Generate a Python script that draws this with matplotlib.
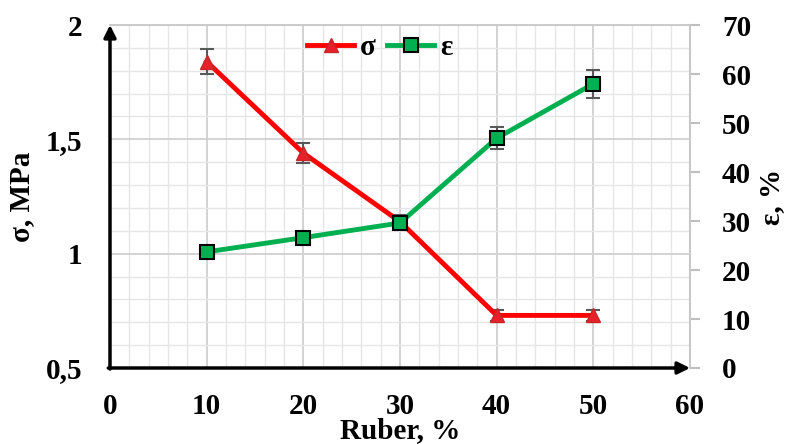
import matplotlib
matplotlib.use("Agg")
import matplotlib.pyplot as plt
from matplotlib.lines import Line2D
from matplotlib.ticker import MultipleLocator, FuncFormatter

plt.rcParams["font.family"] = ["Liberation Serif", "DejaVu Serif"]
plt.rcParams["font.weight"] = "bold"
plt.rcParams["axes.labelweight"] = "bold"
plt.rcParams["font.size"] = 21

# data
ruber = [10, 20, 30, 40, 50]
sigma = [1.84, 1.44, 1.14, 0.73, 0.73]
sigma_err = [0.055, 0.045, 0.03, 0.025, 0.025]
eps = [23.7, 26.6, 29.6, 46.9, 58.0]
eps_err = [0.4, 0.6, 1.0, 2.3, 2.9]

RED = "#FF0000"
GREEN = "#00B050"
GRID_MAJ = "#D0D0D0"
GRID_MIN = "#E6E6E6"

fig = plt.figure(figsize=(7.88, 4.44), dpi=100)
ax = fig.add_axes([110 / 788, 1 - 368 / 444, 580 / 788, 343 / 444])
ax2 = ax.twinx()

ax.set_xlim(0, 60)
ax.set_ylim(0.5, 2)
ax2.set_ylim(0, 70)

ax.xaxis.set_major_locator(MultipleLocator(10))
ax.xaxis.set_minor_locator(MultipleLocator(2))
ax.yaxis.set_major_locator(MultipleLocator(0.5))
ax.yaxis.set_minor_locator(MultipleLocator(0.1))
ax2.yaxis.set_major_locator(MultipleLocator(10))

ax.grid(True, which="major", color=GRID_MAJ, lw=1.3, zorder=0)
ax.grid(True, which="minor", color=GRID_MIN, lw=1.0, zorder=0)
ax.set_axisbelow(True)

ax.yaxis.set_major_formatter(FuncFormatter(lambda v, p: f"{v:g}".replace(".", ",")))

ax.tick_params(axis="both", which="both", length=0)
ax.tick_params(axis="x", pad=18)
ax.tick_params(axis="y", pad=20)
ax2.tick_params(axis="y", length=7, color="#BFBFBF", width=1.5, pad=16)

for s in ["left", "bottom"]:
    ax.spines[s].set_visible(False)
for s in ["top", "right"]:
    ax.spines[s].set_color("#C8C8C8")
    ax.spines[s].set_linewidth(1.3)
for s in ["left", "bottom", "top"]:
    ax2.spines[s].set_visible(False)
ax2.spines["right"].set_color("#C8C8C8")
ax2.spines["right"].set_linewidth(1.5)

# axis arrows
ax.annotate("", xy=(0, 1.0), xytext=(0, -0.003), xycoords="axes fraction",
            arrowprops=dict(arrowstyle="-|>", color="black", lw=2.5,
                            mutation_scale=18, shrinkA=0, shrinkB=0), zorder=5)
ax.annotate("", xy=(1.0, 0), xytext=(-0.003, 0), xycoords="axes fraction",
            arrowprops=dict(arrowstyle="-|>", color="black", lw=2.5,
                            mutation_scale=18, shrinkA=0, shrinkB=0), zorder=5)

ax.errorbar(ruber, sigma, yerr=sigma_err, color=RED, lw=3.5, marker="^",
            ms=10, mfc="#E8202A", mec="#C0282A", ecolor="#595959",
            elinewidth=1.5, capsize=5, capthick=1.5, zorder=3)
ax2.errorbar(ruber, eps, yerr=eps_err, color=GREEN, lw=3.5, marker="s",
             ms=10, mfc=GREEN, mec="black", mew=1.5, ecolor="#595959",
             elinewidth=1.5, capsize=5, capthick=1.5, zorder=3)

ax.set_xlabel("Ruber, %", va="center")
ax.xaxis.set_label_coords(0.5, -0.183)
ax.set_ylabel("σ, MPa", va="center")
ax.yaxis.set_label_coords(-0.152, 0.5)
ax2.set_ylabel("ε, %", rotation=90, va="center")
ax2.yaxis.set_label_coords(1.14, 0.5)

h1 = Line2D([], [], color=RED, lw=3.5, marker="^", ms=10, mfc="#E8202A", mec="#C0282A")
h2 = Line2D([], [], color=GREEN, lw=3.5, marker="s", ms=10, mfc=GREEN, mec="black", mew=1.5)
ax2.legend([h1, h2], ["σ", "ε"], loc="upper center", bbox_to_anchor=(0.465, 1.05),
           ncol=2, frameon=False, handlelength=1.6, handletextpad=0.2,
           columnspacing=0.4, numpoints=1, fontsize=21)

fig.savefig("out.png", dpi=100)
